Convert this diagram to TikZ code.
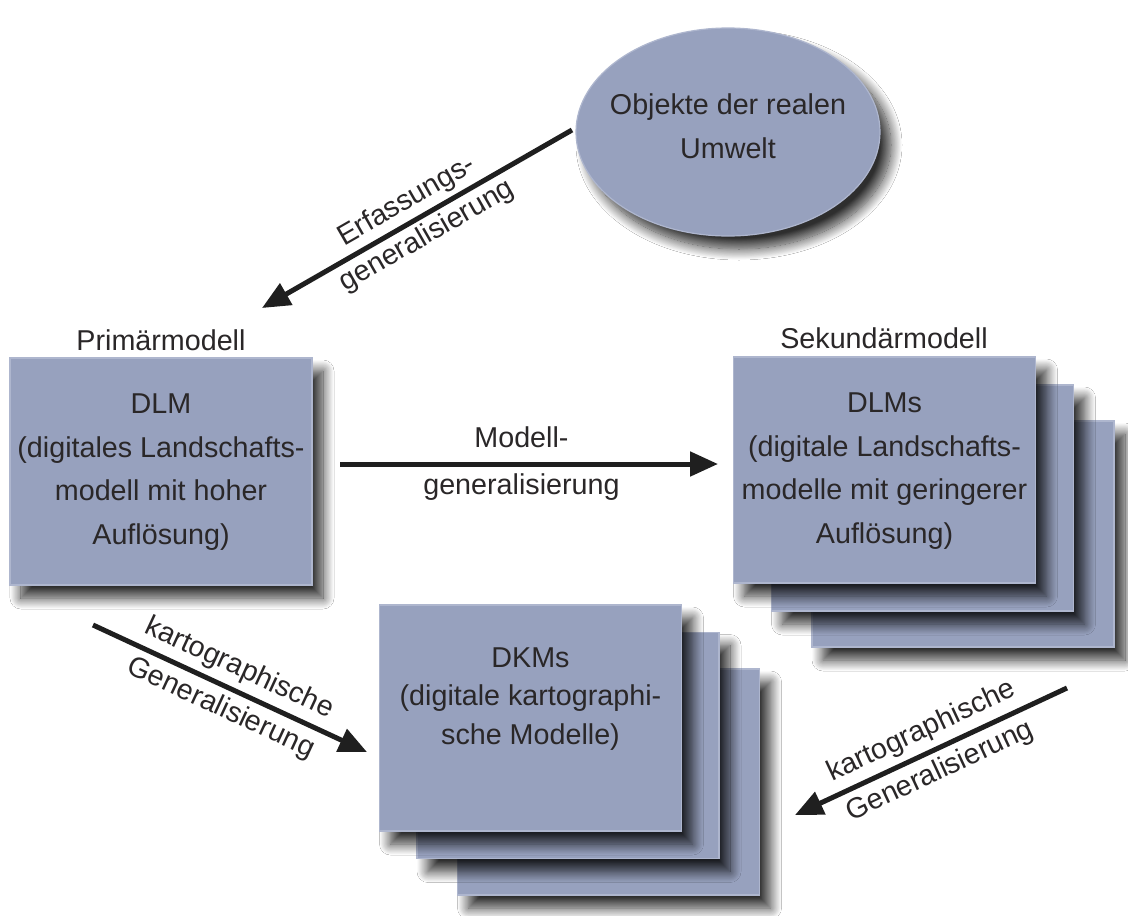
\documentclass[tikz,border=0pt]{standalone}
\usepackage{fontspec}
\setmainfont{Liberation Sans}
\usetikzlibrary{shapes.geometric,arrows.meta,shadows.blur}
\definecolor{boxfill}{HTML}{97A1BE}
\definecolor{boxedge}{HTML}{AEB6CE}
\definecolor{txtcol}{HTML}{2A2728}
\tikzset{
  shd/.style={blur shadow={shadow xshift=11pt, shadow yshift=-13pt, shadow blur radius=11pt, shadow blur steps=18, shadow opacity=82}},
  card/.style={rectangle, draw=boxedge, line width=1.2pt, fill=boxfill, inner sep=0pt,
    minimum width=302pt, minimum height=226pt, shd},
  oval/.style={ellipse, draw=boxedge, line width=1.2pt, fill=boxfill, inner sep=0pt,
    minimum width=304pt, minimum height=208pt, shd},
  txt/.style={text=txtcol, align=center, inner sep=0pt, font=\fontsize{28.7}{43.5}\selectfont},
  lbl/.style={text=txtcol, align=center, inner sep=0pt, font=\fontsize{28.7}{44}\selectfont},
  arr/.style={line width=5pt, draw=black!88, -{Triangle[length=28pt,width=24pt]}},
}
\begin{document}
\begin{tikzpicture}[x=1pt,y=-1pt]
\fill[white] (0,0) rectangle (1128,916);
\useasboundingbox (0,0) rectangle (1128,916);

% ellipse
\node[oval] (obj) at (728,132) {};
\node[txt] (objtext) at (728,126) {Objekte der realen\\Umwelt};

% primary model
\node[card, minimum width=302pt, minimum height=227pt] (dlm) at (161,471.5) {};
\node[txt] (dlmtext) at (161,472) {DLM\\(digitales Landschafts-\\modell mit hoher\\Auflösung)};
\node[txt] (prim) at (161,340) {Primärmodell};

% secondary models stack
\node[card] (dlms3) at (963,534) {};
\node[card] (dlms2) at (922.5,498) {};
\node[card] (dlms) at (884.5,470) {};
\node[txt] (dlmstext) at (884.5,471) {DLMs\\(digitale Landschafts-\\modelle mit geringerer\\Auflösung)};
\node[txt] (sek) at (884,338) {Sekundärmodell};

% cartographic models stack
\node[card] (dkm3) at (608.5,782) {};
\node[card] (dkm2) at (568,745.5) {};
\node[card] (dkm) at (530.5,718) {};
\node[txt, font=\fontsize{28.7}{38.5}\selectfont] (dkmtext) at (530.5,699) {DKMs\\(digitale kartographi-\\sche Modelle)};

% arrow end points
\coordinate (e1) at (572,130);
\coordinate (e2) at (262,308);
\coordinate (m1) at (340,464);
\coordinate (m2) at (718,464);
\coordinate (k1) at (93,625);
\coordinate (k2) at (367,752);
\coordinate (r1) at (1067,688);
\coordinate (r2) at (795,815);

\draw[arr] (e1) -- node[lbl, sloped, pos=0.5, font=\fontsize{28.7}{40}\selectfont] (erf) {Erfassungs-\\generalisierung} (e2);
\draw[arr] (m1) -- node[lbl, pos=0.48, font=\fontsize{28.7}{47}\selectfont] (mod) {Modell-\\generalisierung} (m2);
\draw[arr] (k1) -- node[lbl, sloped, pos=0.5] (kart1) {kartographische\\Generalisierung} (k2);
\draw[arr] (r1) -- node[lbl, sloped, pos=0.5] (kart2) {kartographische\\Generalisierung} (r2);
\end{tikzpicture}
\end{document}
